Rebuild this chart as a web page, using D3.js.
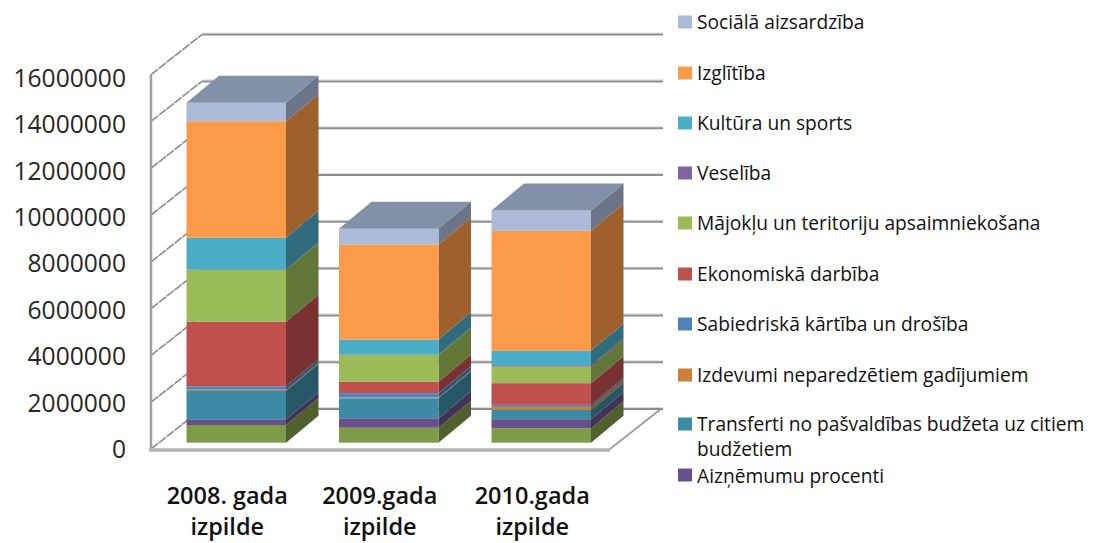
<!DOCTYPE html>
<html><head><meta charset="utf-8">
<script src="https://cdn.jsdelivr.net/npm/d3@7"></script>
<style>html,body{margin:0;background:#fff}svg{display:block}text{font-family:"Open Sans","Noto Sans",sans-serif}</style>
</head><body><svg id="c" width="1093" height="543"></svg>
<script>
const categories = [["2008. gada","izpilde"],["2009.gada","izpilde"],["2010.gada","izpilde"]];
const seriesKeys = ["Pārējie","Aizņēmumu procenti","Transferti","Izdevumi neparedzētiem gadījumiem","Sabiedriskā kārtība un drošība","Ekonomiskā darbība","Mājokļu un teritoriju apsaimniekošana","Veselība","Kultūra un sports","Izglītība","Sociālā aizsardzība"];
const colors = ["#7f9a48","#68518a","#3c8aa4","#cc7f3a","#4f81bd","#c0504d","#9bbb59","#8064a2","#4bacc6","#fb9a48","#aabad7"];
const val2008 = [756000,244000,1210000,56000,145000,2760000,2209000,20000,1355000,4983000,786000];
const val2009 = [641000,402000,855000,30000,190000,490000,1141000,20000,641000,4060000,671000];
const val2010 = [620000,385000,397000,128000,85000,930000,709000,60000,611000,5128000,868000];
const yTicks = [0,2000000,4000000,6000000,8000000,10000000,12000000,14000000,16000000];
const legendLines = [
 ["Sociālā aizsardzība",22,10],["Izglītība",73,9],["Kultūra un sports",123,8],["Veselība",173,7],
 ["Mājokļu un teritoriju apsaimniekošana",223,6],["Ekonomiskā darbība",274,5],["Sabiedriskā kārtība un drošība",324,4],
 ["Izdevumi neparedzētiem gadījumiem",375,3],["Transferti no pašvaldības budžeta uz citiem",424,2],["budžetiem",449.5,-1],["Aizņēmumu procenti",476,1]];

const svg = d3.select("#c");
const dark = c => { const k=d3.rgb(c); return d3.rgb(k.r*.63,k.g*.63,k.b*.63).formatHex(); };
const rows = [val2008,val2009,val2010].map((v,i)=>{const o={i};seriesKeys.forEach((k,j)=>o[k]=v[j]);return o;});
const stacked = d3.stack().keys(seriesKeys)(rows);

const yWall = d3.scaleLinear().domain([0,16000000]).range([449,74.6]);
const yBar = d3.scaleLinear().domain([0,16000000]).range([442.7,68.3]);
const yLabel = d3.scaleLinear().domain([0,16000000]).range([449,77.5]);
const x = d3.scaleBand().domain([0,1,2]).range([186.5,591]).paddingInner(0.3475).paddingOuter(0);
const wallDepth = [51.5,-40.5], barDepth = [32.5,-27];
const floorRight = 610, backRight = 663;
const line = d3.line();

const g = svg.append("g");
yTicks.forEach(t=>{
  const y = yWall(t)+wallDepth[1], xb=151+wallDepth[0];
  g.append("path").attr("d",line([[xb,y-1],[backRight,y-1]])).attr("stroke","#dcdcdc").attr("stroke-width",1).attr("fill","none");
  g.append("path").attr("d",line([[xb,y+.5],[backRight,y+.5]])).attr("stroke","#8e8e8e").attr("stroke-width",2).attr("fill","none");
  g.append("path").attr("d",line([[151,yWall(t)],[xb,y]])).attr("stroke","#8a8a8a").attr("stroke-width",1.6).attr("stroke-dasharray","9 1").attr("fill","none");
});
g.append("path").attr("d",line([[151,yWall(16000000)],[151,yWall(0)]])).attr("stroke","#a0a0a0").attr("stroke-width",2.5).attr("fill","none");
g.append("path").attr("d",line([[149,yWall(0)+1],[floorRight,yWall(0)+1]])).attr("stroke","#b4b4b4").attr("stroke-width",3.5).attr("fill","none");
g.append("path").attr("d",line([[floorRight,yWall(0)],[floorRight+wallDepth[0],yWall(0)+wallDepth[1]]])).attr("stroke","#999").attr("stroke-width",1.6).attr("fill","none");

const bars = svg.append("g");
stacked.forEach((s,si)=>{
  s.forEach((d,ci)=>{
    const x0=x(ci), x1=x0+x.bandwidth(), y0=yBar(d[0]), y1=yBar(d[1]);
    bars.append("path").attr("fill",dark(colors[si]))
      .attr("d",line([[x1,y0],[x1+barDepth[0],y0+barDepth[1]],[x1+barDepth[0],y1+barDepth[1]],[x1,y1]])+"Z");
    bars.append("rect").attr("x",x0).attr("y",y1).attr("width",x1-x0).attr("height",y0-y1).attr("fill",colors[si]);
  });
});
const topSeries = stacked[stacked.length-1];
topSeries.forEach((d,ci)=>{
  const x0=x(ci), x1=x0+x.bandwidth(), y1=yBar(d[1]);
  bars.append("path").attr("fill","#8290a8")
    .attr("d",line([[x0,y1],[x0+barDepth[0],y1+barDepth[1]],[x1+barDepth[0],y1+barDepth[1]],[x1,y1]])+"Z");
});

svg.append("g").attr("transform","translate(126,0)")
  .call(d3.axisLeft(yLabel).tickValues(yTicks).tickFormat(d3.format("d")).tickSize(0).tickPadding(0))
  .call(a=>a.select(".domain").remove())
  .selectAll("text").attr("font-size",24.6).attr("fill","#262626").style("font-family",'"Open Sans"').attr("dy","0.35em");

categories.forEach((c,i)=>{
  const cx = x(i)+x.bandwidth()/2-9;
  c.forEach((t,j)=>svg.append("text").attr("x",cx).attr("y",j?535:504).attr("text-anchor","middle")
    .attr("font-size",23.5).attr("font-weight",600).attr("fill","#111").text(t));
});

const lg = svg.append("g");
legendLines.forEach(([t,y,ci])=>{
  if(ci>=0) lg.append("rect").attr("x",678).attr("y",Math.min(y,475)-6.5).attr("width",14).attr("height",13).attr("fill",colors[ci]);
  lg.append("text").attr("x",697).attr("y",y+6.5).attr("font-size",19.2).attr("fill","#111").text(t);
});
</script></body></html>
